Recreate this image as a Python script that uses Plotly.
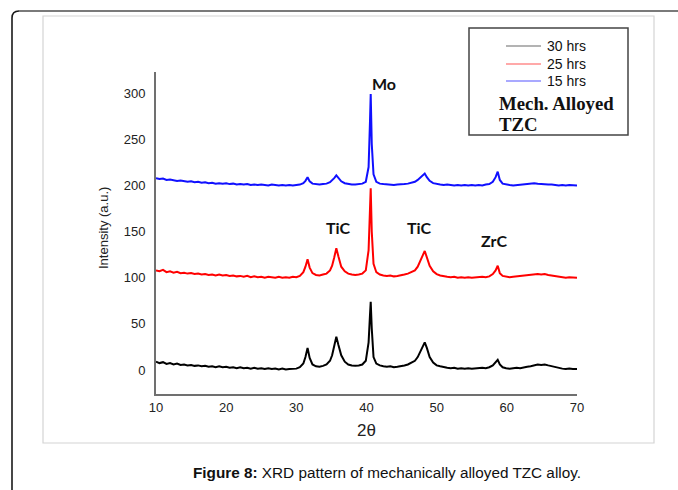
import plotly.graph_objects as go

# 2-theta positions (degrees) shared by all three scans
two_theta = [
    10.0, 10.5, 11.0, 11.5, 12.0, 12.5, 13.0, 13.5, 14.0, 14.5,
    15.0, 15.5, 16.0, 16.5, 17.0, 17.5, 18.0, 18.5, 19.0, 19.5,
    20.0, 20.5, 21.0, 21.5, 22.0, 22.5, 23.0, 23.5, 24.0, 24.5,
    25.0, 25.5, 26.0, 26.5, 27.0, 27.5, 28.0, 28.5, 29.0, 29.5,
    30.0, 30.5, 31.0, 31.3, 31.6, 31.9, 32.3, 32.8, 33.3, 33.8,
    34.3, 34.8, 35.1, 35.4, 35.7, 36.0, 36.4, 36.9, 37.4, 37.9,
    38.4, 38.9, 39.4, 39.9, 40.3, 40.5, 40.6, 40.75, 41.0, 41.4,
    41.9, 42.4, 42.9, 43.4, 43.9, 44.4, 44.9, 45.4, 45.9, 46.4,
    46.9, 47.3, 47.7, 48.0, 48.3, 48.6, 49.0, 49.5, 50.0, 50.5,
    51.0, 51.5, 52.0, 52.5, 53.0, 53.5, 54.0, 54.5, 55.0, 55.5,
    56.0, 56.5, 57.0, 57.5, 58.0, 58.4, 58.7, 59.0, 59.4, 59.9,
    60.4, 60.9, 61.4, 61.9, 62.4, 62.9, 63.4, 63.9, 64.4, 64.9,
    65.4, 65.9, 66.4, 66.9, 67.4, 67.9, 68.4, 68.9, 69.4, 70.0,
]

# Intensities (a.u.), each scan offset vertically
int_30h = [
    9, 7.5, 8.5, 6.5, 7.5, 6, 7, 5.5, 6, 5,
    5.5, 4.5, 5, 4, 4.5, 3.5, 4, 3, 4, 3,
    3.5, 2.5, 3, 2, 3, 2, 2.5, 1.5, 2.5, 1.5,
    2, 1, 2, 1, 1.5, 0.5, 1.5, 0.5, 1, 1.5,
    1.5, 3, 7, 14, 24, 13, 6, 4, 3.5, 4.5,
    6, 10, 16, 26, 36, 27, 16, 9, 6, 5,
    4.5, 5, 6, 10, 30, 60, 74, 45, 14, 7,
    5, 4, 3.5, 4, 3, 3.5, 4, 5, 6, 8,
    10, 14, 20, 25, 30, 24, 14, 8, 5, 4,
    3, 2.5, 2, 2.5, 1.5, 2, 1.5, 2, 1.5, 2,
    2, 2.5, 2, 3, 5, 8, 11, 6, 3, 2,
    1.5, 2, 2.5, 2, 3, 3.5, 4, 5, 6, 5.5,
    6, 5, 4, 3, 2, 1.5, 1, 1.5, 1, 1,
]

int_25h = [
    108, 107, 108.5, 106, 107, 105.5, 106.5, 105, 105.5, 104.5,
    105, 104, 104.5, 103.5, 104, 103, 103.5, 102.5, 103.5, 102.5,
    103, 102, 102.5, 101.5, 102, 101, 102, 100.5, 101.5, 100.5,
    101, 100, 101, 100.5, 100, 101, 100, 100.5, 100, 101,
    100.5, 102, 106, 112, 120, 111, 105, 103, 102.5, 103.5,
    104.5, 108, 113, 122, 132, 123, 112, 107, 104.5, 103.5,
    103, 103.5, 104.5, 108, 130, 175, 197, 150, 115, 106,
    103.5, 102.5, 102, 102.5, 101.5, 102, 102.5, 103.5, 104.5, 106,
    108, 112, 118, 124, 129, 122, 113, 107, 104, 102.5,
    101.5, 101, 100.5, 101, 100, 100.5, 100, 100.5, 100, 100.5,
    100.5, 101, 100.5, 101.5, 104, 108, 113, 105, 102, 101,
    100.5, 101, 101.5, 101.5, 102, 102.5, 103, 103.5, 104, 103.5,
    104, 103, 102.5, 101.5, 101, 100.5, 100, 100.5, 100, 100,
]

int_15h = [
    208, 207, 207.5, 206, 206.5, 205.5, 205, 205.5, 204.5, 204,
    204.5, 203.5, 204, 203, 203.5, 202.5, 203, 202, 202.5, 202,
    202.5, 201.5, 202, 201, 201.5, 201, 201.5, 200.5, 201, 200.5,
    201, 200.5, 200, 201, 200.5, 200, 200.5, 200, 200.5, 200,
    200.5, 201, 202.5, 205, 209, 204.5, 202, 201.5, 201, 201.5,
    202, 203.5, 205.5, 208, 211, 208, 204.5, 202.5, 201.5, 201,
    201, 201.5, 202, 204, 220, 270, 299, 245, 212, 204,
    202, 201.5, 201, 201, 200.5, 201, 201, 201.5, 202, 203,
    204, 206, 209, 211, 213, 209, 205, 202.5, 201.5, 201,
    200.5, 201, 200.5, 200, 200.5, 200, 200.5, 200, 200.5, 200,
    200.5, 200, 201, 201.5, 204, 209, 215, 206, 202, 201,
    200.5, 200, 200.5, 201, 201, 201.5, 202, 202.5, 202, 201.5,
    201.5, 201, 201, 200.5, 200, 200.5, 200, 200.5, 200, 200,
]

series_names = ["30 hrs", "25 hrs", "15 hrs"]
series_colors = ["#000000", "#ff0000", "#1010ff"]
legend_colors = ["#9a9a9a", "#ff8c8c", "#8c8cff"]

x_ticks = [10, 20, 30, 40, 50, 60, 70]
y_ticks = [0, 50, 100, 150, 200, 250, 300]

# Phase labels: (text, 2-theta, intensity)
phase_labels = [
    ("Mo", 42.45, 310),
    ("TiC", 35.96, 154.5),
    ("TiC", 47.52, 154.5),
    ("ZrC", 58.2, 140),
]

W, H = 678, 490
ML, MR, MT, MB = 156, 101, 72, 96
PW, PH = W - ML - MR, H - MT - MB


def px(x):
    return (x - ML) / PW


def py(y):
    return (H - MB - y) / PH


fig = go.Figure()
for ys, name, col in zip([int_30h, int_25h, int_15h], series_names, series_colors):
    fig.add_trace(go.Scatter(
        x=two_theta, y=ys, mode="lines", name=name,
        line=dict(color=col, width=2), showlegend=False,
    ))

shapes = []
# outer page frame with rounded corner
shapes.append(dict(type="path", xref="paper", yref="paper",
                   path=f"M {px(12)},{py(500)} L {px(12)},{py(18)} Q {px(12)},{py(11)} {px(19)},{py(11)}",
                   line=dict(color="#1a1a1a", width=1.6)))
shapes.append(dict(type="line", xref="paper", yref="paper",
                   x0=px(19), y0=py(11), x1=px(690), y1=py(11),
                   line=dict(color="#7a7a7a", width=2.2)))
# figure panel border
shapes.append(dict(type="rect", xref="paper", yref="paper",
                   x0=px(43), y0=py(443), x1=px(654), y1=py(16),
                   line=dict(color="#d4d4d4", width=1.2)))
# legend box
shapes.append(dict(type="rect", xref="paper", yref="paper",
                   x0=px(469), y0=py(135), x1=px(628), y1=py(28),
                   line=dict(color="#444444", width=1.5), fillcolor="white"))

annotations = []
leg_y = [46, 64, 81]
for yy, name, col in zip(leg_y, series_names, legend_colors):
    shapes.append(dict(type="line", xref="paper", yref="paper",
                       x0=px(506), y0=py(yy), x1=px(541), y1=py(yy),
                       line=dict(color=col, width=1.6)))
    annotations.append(dict(text=name, xref="paper", yref="paper",
                            x=px(545), y=py(yy), xanchor="left", yanchor="middle",
                            showarrow=False,
                            font=dict(family="Liberation Sans, Arial", size=14, color="#111")))
annotations.append(dict(text="<b>Mech. Alloyed</b>", xref="paper", yref="paper",
                        x=px(497), y=py(104), xanchor="left", yanchor="middle",
                        showarrow=False,
                        font=dict(family="Liberation Serif, Times New Roman", size=18.8, color="#111")))
annotations.append(dict(text="<b>TZC</b>", xref="paper", yref="paper",
                        x=px(497), y=py(124), xanchor="left", yanchor="middle",
                        showarrow=False,
                        font=dict(family="Liberation Serif, Times New Roman", size=18.8, color="#111")))

for txt, xv, yv in phase_labels:
    annotations.append(dict(text=f"<b>{txt}</b>", x=xv, y=yv, xref="x", yref="y",
                            showarrow=False, xanchor="center", yanchor="middle",
                            font=dict(family="Lato, Open Sans", size=16, color="#111")))

# axis titles
annotations.append(dict(text="Intensity (a.u.)", xref="paper", yref="paper",
                        x=px(103), y=py(228), textangle=-90, showarrow=False,
                        xanchor="center", yanchor="middle",
                        font=dict(family="Liberation Sans, Arial", size=13, color="#222")))
annotations.append(dict(text="2θ", xref="paper", yref="paper",
                        x=px(366), y=py(430), showarrow=False,
                        xanchor="center", yanchor="middle",
                        font=dict(family="Liberation Sans, Arial", size=17, color="#222")))
# caption
annotations.append(dict(text="<b>Figure 8:</b> XRD pattern of mechanically alloyed TZC alloy.",
                        xref="paper", yref="paper", x=px(387), y=py(472),
                        showarrow=False, xanchor="center", yanchor="middle",
                        font=dict(family="Liberation Sans, Arial", size=15.3, color="#111")))

fig.update_layout(
    width=W, height=H,
    margin=dict(l=ML, r=MR, t=MT, b=MB),
    paper_bgcolor="white", plot_bgcolor="white",
    shapes=shapes, annotations=annotations,
    showlegend=False,
)
fig.update_xaxes(range=[10, 70], tickvals=x_ticks, showgrid=False, zeroline=False,
                 showline=True, linecolor="#707070", linewidth=2, ticks="",
                 tickfont=dict(family="Liberation Sans, Arial", size=13, color="#222"))
fig.update_yaxes(range=[-26, 323], tickvals=y_ticks, showgrid=False, zeroline=False,
                 showline=True, linecolor="#707070", linewidth=2, ticks="",
                 ticklabelstandoff=6,
                 tickfont=dict(family="Liberation Sans, Arial", size=13, color="#222"))

fig.write_html("out.html")
